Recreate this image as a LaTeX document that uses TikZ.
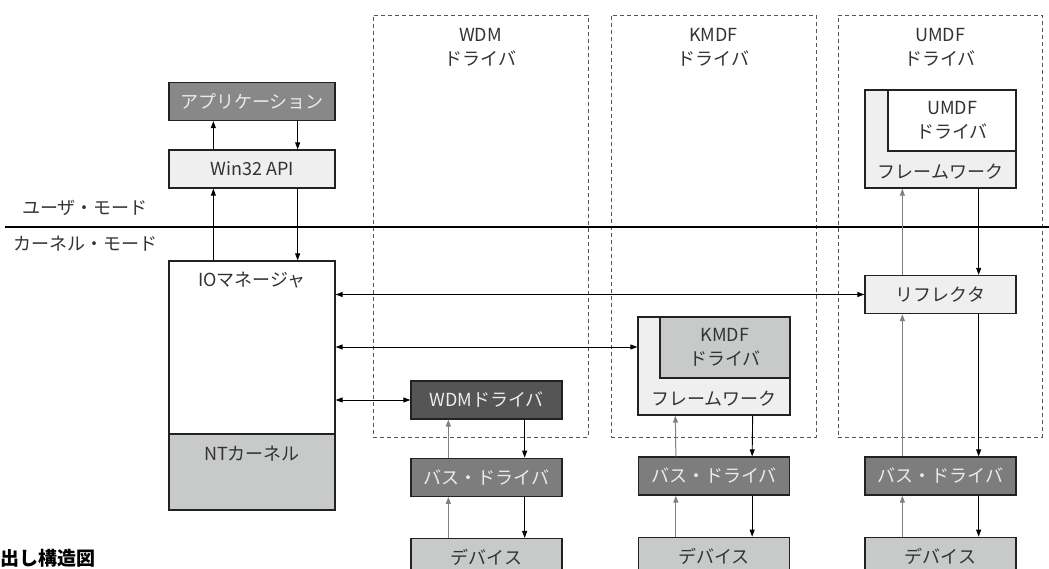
\documentclass[tikz,border=0pt]{standalone}
\usepackage{fontspec}
\setmainfont{Noto Sans CJK JP}
\usepackage{tikz}
\usetikzlibrary{arrows.meta, positioning}
\definecolor{boxEdge}{RGB}{34,34,34}
\definecolor{grpEdge}{RGB}{85,85,85}
\definecolor{appFill}{RGB}{136,136,136}
\definecolor{drvFill}{RGB}{85,85,85}
\definecolor{busFill}{RGB}{125,125,125}
\definecolor{midFill}{RGB}{200,202,202}
\definecolor{liteFill}{RGB}{239,239,239}
\definecolor{txtDark}{RGB}{51,51,51}
\definecolor{txtLite}{RGB}{235,235,235}
\newcommand{\dgfont}{\fontsize{18}{24}\selectfont}
\newcommand{\capfont}{\bfseries\fontsize{19}{21}\selectfont}

\begin{document}
\begin{tikzpicture}[
    x=1pt, y=-1pt,
    blk/.style={rectangle, draw=boxEdge, line width=1.3pt, minimum width=151pt, minimum height=38pt, inner sep=0pt, align=center, font=\dgfont, text=txtDark},
    wide/.style={minimum width=166pt},
    dark/.style={fill=appFill, text=txtLite},
    lite/.style={fill=liteFill},
    mid/.style={fill=midFill},
    bus/.style={blk, fill=busFill, text=txtLite},
    grp/.style={rectangle, draw=grpEdge, dashed, dash pattern=on 4pt off 3pt, line width=0.8pt, minimum height=422pt, inner sep=0pt},
    txt/.style={inner sep=0pt, align=center, font=\dgfont, text=txtDark},
    arrow/.style={-{Triangle[length=7pt, width=5pt]}, line width=0.9pt, black},
    uparrow/.style={-{Triangle[length=7pt, width=5pt]}, line width=1pt, black!50},
    biarrow/.style={{Triangle[length=7pt, width=5pt]}-{Triangle[length=7pt, width=5pt]}, line width=0.9pt, black},
    modeline/.style={line width=1.4pt, black}
]
\useasboundingbox (0,0) rectangle (1049,569);

% --- Dashed driver groups ---
\node[grp, minimum width=215pt] (wdmgrp) at (480.5,226) {};
\node[grp, minimum width=205pt] (kgrp) at (713.5,226) {};
\node[grp, minimum width=204pt] (ugrp) at (940,226) {};
\node[txt, below=14pt of wdmgrp.north] (wdmttl) {WDM\\ドライバ};
\node[txt, below=14pt of kgrp.north] (kttl) {KMDF\\ドライバ};
\node[txt, below=14pt of ugrp.north] (uttl) {UMDF\\ドライバ};

% --- User / kernel boundary ---
\coordinate (mlL) at (5,227);
\coordinate (mlR) at (1049,227);
\draw[modeline] (mlL) -- (mlR);
\node[txt] (umode) at (85,208) {ユーザ・モード};
\node[txt] (kmode) at (85,244) {カーネル・モード};

% --- Left stack ---
\node[blk, wide, dark] (app) at (252,101.5) {アプリケーション};
\node[blk, wide, lite] (win32) at (252,169) {Win32 API};
\node[blk, wide, minimum height=173pt, fill=white] (iomgr) at (252,347.5) {};
\node[txt, below=12pt of iomgr.north] (iolbl) {IOマネージャ};
\node[blk, wide, mid, minimum height=76pt] (ntk) at (252,472) {};
\node[txt, below=13pt of ntk.north] (ntlbl) {NTカーネル};

% --- WDM column ---
\node[blk, fill=drvFill, text=txtLite] (wdmdrv) at (486.5,400) {WDMドライバ};
\node[bus, below=38pt of wdmdrv] (wdmbus) {バス・ドライバ};
\node[blk, mid, below=41pt of wdmbus] (wdmdev) {デバイス};

% --- KMDF column ---
\node[blk, lite, minimum width=152pt, minimum height=98pt] (kfw) at (714,366) {};
\node[blk, mid, anchor=north east, minimum width=130pt, minimum height=61pt] (kdrv) at (kfw.north east) {KMDF\\ドライバ};
\node[txt, above=9pt of kfw.south] (kfwlbl) {フレームワーク};
\node[bus] (kbus) at (714,476) {バス・ドライバ};
\node[blk, mid, below=41pt of kbus] (kdev) {デバイス};

% --- UMDF column ---
\node[blk, lite, minimum height=98pt] (ufw) at (940.5,139) {};
\node[blk, fill=white, anchor=north east, minimum width=128pt, minimum height=61pt] (udrv) at (ufw.north east) {UMDF\\ドライバ};
\node[txt, above=9pt of ufw.south] (ufwlbl) {フレームワーク};
\node[blk, lite] (refl) at (940.5,294.5) {リフレクタ};
\node[bus] (ubus) at (940.5,476) {バス・ドライバ};
\node[blk, mid, below=41pt of ubus] (udev) {デバイス};

% === Arrows ===
\draw[arrow] ([xshift=45pt]win32.north west) -- ([xshift=45pt]app.south west);
\draw[arrow] ([xshift=-38pt]app.south east) -- ([xshift=-38pt]win32.north east);
\draw[arrow] ([xshift=45pt]iomgr.north west) -- ([xshift=45pt]win32.south west);
\draw[arrow] ([xshift=-38pt]win32.south east) -- ([xshift=-38pt]iomgr.north east);

% IO manager <-> drivers
\coordinate (kin) at ([yshift=19pt]kfw.west);
\draw[biarrow] (iomgr.east |- refl.west) -- (refl.west);
\draw[biarrow] (iomgr.east |- kin) -- (kin);
\draw[biarrow] (iomgr.east |- wdmdrv.west) -- (wdmdrv.west);

% WDM stack
\draw[uparrow] ([xshift=38pt]wdmbus.north west) -- ([xshift=38pt]wdmdrv.south west);
\draw[arrow] ([xshift=-38pt]wdmdrv.south east) -- ([xshift=-38pt]wdmbus.north east);
\draw[uparrow] ([xshift=38pt]wdmdev.north west) -- ([xshift=38pt]wdmbus.south west);
\draw[arrow] ([xshift=-38pt]wdmbus.south east) -- ([xshift=-38pt]wdmdev.north east);

% KMDF stack
\draw[uparrow] ([xshift=38pt]kbus.north west) -- ([xshift=38pt]kfw.south west);
\draw[arrow] ([xshift=-38pt]kfw.south east) -- ([xshift=-38pt]kbus.north east);
\draw[uparrow] ([xshift=38pt]kdev.north west) -- ([xshift=38pt]kbus.south west);
\draw[arrow] ([xshift=-38pt]kbus.south east) -- ([xshift=-38pt]kdev.north east);

% UMDF stack
\draw[uparrow] ([xshift=38pt]refl.north west) -- ([xshift=38pt]ufw.south west);
\draw[arrow] ([xshift=-38pt]ufw.south east) -- ([xshift=-38pt]refl.north east);
\draw[uparrow] ([xshift=38pt]ubus.north west) -- ([xshift=38pt]refl.south west);
\draw[arrow] ([xshift=-38pt]refl.south east) -- ([xshift=-38pt]ubus.north east);
\draw[uparrow] ([xshift=38pt]udev.north west) -- ([xshift=38pt]ubus.south west);
\draw[arrow] ([xshift=-38pt]ubus.south east) -- ([xshift=-38pt]udev.north east);

% Caption
\node[anchor=south west, inner sep=0pt, font=\capfont] (cap) at (0,568) {出し構造図};

\end{tikzpicture}
\end{document}
